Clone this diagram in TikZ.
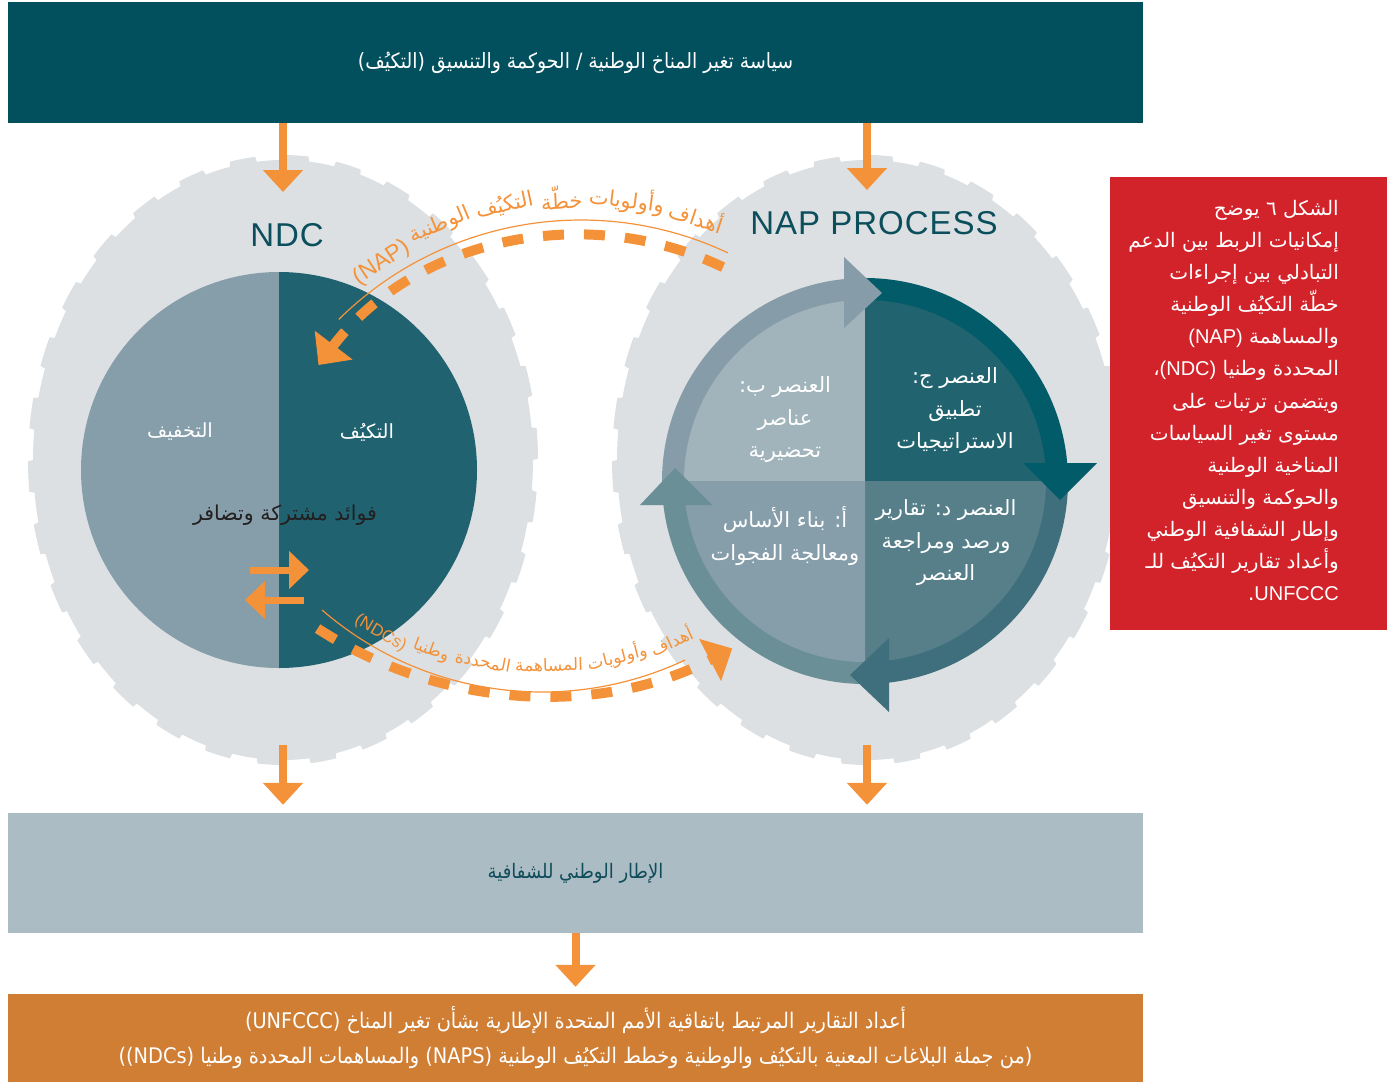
\documentclass[tikz,border=0pt]{standalone}
\usepackage{fontspec}
\setmainfont{Liberation Sans}
\newfontfamily\ar[Script=Arabic]{DejaVu Sans}
\newfontfamily\arn[Script=Arabic,FakeStretch=0.9]{DejaVu Sans}
\newfontfamily\lat{Liberation Sans}
\newfontfamily\latsp[LetterSpace=3]{Liberation Sans}
\TeXXeTstate=1
\usetikzlibrary{arrows.meta,calc}
\newcommand{\arR}[1]{\beginR#1\endR}
\newcommand{\latin}[1]{\beginL{\lat #1}\endL}
\newcommand{\latn}[1]{\beginL#1\endL}
\definecolor{topc}{HTML}{02505E}
\definecolor{orc}{HTML}{F4923A}
\definecolor{gearc}{HTML}{DCE0E2}
\definecolor{mitc}{HTML}{869DAA}
\definecolor{adac}{HTML}{20626F}
\definecolor{ttl}{HTML}{0B4F5C}
\definecolor{midc}{HTML}{ABBCC4}
\definecolor{midt}{HTML}{0F4C5A}
\definecolor{botc}{HTML}{CF7E33}
\definecolor{redc}{HTML}{D2232A}
\definecolor{tlr}{HTML}{869DA9}
\definecolor{tli}{HTML}{A1B4BB}
\definecolor{trr}{HTML}{025B68}
\definecolor{tri}{HTML}{21636F}
\definecolor{brr}{HTML}{3F6F7C}
\definecolor{bri}{HTML}{567F8A}
\definecolor{blr}{HTML}{6A8F97}
\definecolor{bli}{HTML}{869DAA}
\definecolor{darkt}{HTML}{231F20}
\newcommand{\drawgear}[2]{%
  \fill[gearc] plot[domain=0:360,samples=1441,variable=\t]
   ({#1+(250+5*mod(floor(\t/6),2))*cos(\t)},{#2+(300+5*mod(floor(\t/6),2))*sin(\t)}) -- cycle;}
\tikzset{
  oarr/.style={draw=orc, line width=8pt, -{Triangle[width=39pt,length=22pt]}},
  sarr/.style={draw=orc, line width=7pt, -{Triangle[width=37pt,length=20pt]}},
  dashpath/.style={draw=orc, line width=10pt, dash pattern=on 21pt off 20pt, -{Triangle[width=46pt,length=25pt]}},
  thinarc/.style={draw=orc, line width=1.2pt},
  arwt/.style={text=orc, inner sep=0pt, font=\ar\fontsize{21}{23}\selectfont},
  arwb/.style={text=orc, inner sep=0pt, font=\ar\fontsize{17}{20}\selectfont},
  qtext/.style={text=white, align=center, inner sep=0pt, font=\ar\fontsize{21}{32.5}\selectfont},
  band/.style={minimum width=1135pt, inner sep=0pt, align=center},
  title/.style={text=ttl, inner sep=0pt, font=\latsp\fontsize{33}{36}\selectfont},
}
\begin{document}
\begin{tikzpicture}[x=1pt,y=-1pt]
\useasboundingbox (0,0) rectangle (1394,1082);
% gears
\drawgear{283}{460}
\drawgear{867}{460}
% NDC circle
\coordinate (L) at (279,470);
\fill[mitc] (L) -- +(90:198) arc[start angle=90,end angle=270,radius=198] -- cycle;
\fill[adac] (L) -- +(-90:198) arc[start angle=-90,end angle=90,radius=198] -- cycle;
% NAP circle
\coordinate (N) at (865,481);
\fill[tlr] (N) -- +(180:203) arc[start angle=180,end angle=270,radius=203] -- cycle;
\fill[trr] (N) -- +(270:203) arc[start angle=270,end angle=360,radius=203] -- cycle;
\fill[brr] (N) -- +(0:203) arc[start angle=0,end angle=90,radius=203] -- cycle;
\fill[blr] (N) -- +(90:203) arc[start angle=90,end angle=180,radius=203] -- cycle;
\fill[tli] (N) -- +(180:181) arc[start angle=180,end angle=270,radius=181] -- cycle;
\fill[tri] (N) -- +(270:181) arc[start angle=270,end angle=360,radius=181] -- cycle;
\fill[bri] (N) -- +(0:181) arc[start angle=0,end angle=90,radius=181] -- cycle;
\fill[bli] (N) -- +(90:181) arc[start angle=90,end angle=180,radius=181] -- cycle;
\fill[tlr] (844,257) -- (844,328) -- (882,293) -- cycle;
\fill[trr] (1023,463) -- (1097,463) -- (1060,500) -- cycle;
\fill[brr] (889,638) -- (889,712) -- (850,675) -- cycle;
\fill[blr] (640,505) -- (712,505) -- (675,468) -- cycle;
% bands
\node[band, fill=topc, minimum height=121pt, text=white, font=\arn\fontsize{21}{24}\selectfont] (top) at (575.5,62.5)
  {\arR{سياسة تغير المناخ الوطنية / الحوكمة والتنسيق (التكيُف)}};
\node[band, fill=midc, minimum height=120pt, text=midt, font=\arn\fontsize{20}{24}\selectfont] (mid) at (575.5,873)
  {\arR{الإطار الوطني للشفافية}};
\node[band, fill=botc, minimum height=88pt, text=white, font=\arn\fontsize{21.5}{35}\selectfont] (bot) at (575.5,1038)
  {\arR{أعداد التقارير المرتبط باتفاقية الأمم المتحدة الإطارية بشأن تغير المناخ \latn{(UNFCCC)}}\\
   \arR{(من جملة البلاغات المعنية بالتكيُف والوطنية وخطط التكيُف الوطنية \latn{(NAPS)} والمساهمات المحددة وطنيا \latn{(NDCs)})}};
% red caption
\node[fill=redc, minimum width=277pt, minimum height=453pt, inner sep=0pt] (cap) at (1248.5,403.5) {};
\node[anchor=north east, align=right, text=white, inner sep=0pt, font=\ar\fontsize{20}{32.1}\selectfont] (capt) at (1339,200)
  {\arR{الشكل ٦ يوضح}\\
   \arR{إمكانيات الربط بين الدعم}\\
   \arR{التبادلي بين إجراءات}\\
   \arR{خطّة التكيُف الوطنية}\\
   \arR{والمساهمة \latin{(NAP)}}\\
   \arR{المحددة وطنيا \latin{(NDC)}،}\\
   \arR{ويتضمن ترتبات على}\\
   \arR{مستوى تغير السياسات}\\
   \arR{المناخية الوطنية}\\
   \arR{والحوكمة والتنسيق}\\
   \arR{وإطار الشفافية الوطني}\\
   \arR{وأعداد تقارير التكيُف للـ}\\
   \arR{\latin{UNFCCC}.}};
% arrows
\coordinate (g1in) at (283,192);
\coordinate (g2in) at (867,190);
\coordinate (g1out) at (283,745);
\coordinate (g2out) at (867,745);
\draw[oarr] (top.south -| g1in) -- (g1in);
\draw[oarr] (top.south -| g2in) -- (g2in);
\draw[oarr, shorten >=8pt] (g1out) -- (mid.north -| g1out);
\draw[oarr, shorten >=8pt] (g2out) -- (mid.north -| g2out);
\draw[oarr, shorten >=7pt] (mid.south) -- (bot.north);
% titles and circle texts
\node[title] (ndc) at (287,235) {NDC};
\node[title] (nap) at (874,223) {NAP PROCESS};
\node[text=white, inner sep=0pt, font=\ar\fontsize{19.5}{22}\selectfont] (mit) at (180,432) {\arR{التخفيف}};
\node[text=white, inner sep=0pt, font=\ar\fontsize{19.5}{22}\selectfont] (ada) at (367,432) {\arR{التكيُف}};
\node[text=darkt, inner sep=0pt, font=\ar\fontsize{20.5}{22}\selectfont] (cob) at (285,515) {\arR{فوائد مشتركة وتضافر}};
\coordinate (s1a) at (250,570); \coordinate (s1b) at (309,570);
\coordinate (s2a) at (304,600); \coordinate (s2b) at (245,600);
\draw[sarr] (s1a) -- (s1b);
\draw[sarr] (s2a) -- (s2b);
% quadrant texts
\node[qtext] (qb) at (785,420) {\arR{العنصر ب:}\\\arR{عناصر}\\\arR{تحضيرية}};
\node[qtext] (qc) at (955,411) {\arR{العنصر ج:}\\\arR{تطبيق}\\\arR{الاستراتيجيات}};
\node[qtext] (qd) at (946,543) {\arR{العنصر د: تقارير}\\\arR{ورصد ومراجعة}\\\arR{العنصر}};
\node[qtext] (qa) at (785,536) {\arR{أ: بناء الأساس}\\\arR{ومعالجة الفجوات}};
% dashed exchange arcs
\coordinate (TC) at (581,565);
\coordinate (BC) at (542,283);
\coordinate (BT) at (542,356);
\draw[dashpath] ($(TC)+(-64.5:330)$) arc[start angle=-64.5,end angle=-142.7,radius=330];
\draw[thinarc] ($(TC)+(-64.8:345)$) arc[start angle=-64.8,end angle=-134.6,radius=345];
\draw[dashpath] ($(BC)+(123:412)$) arc[start angle=123,end angle=62.5,radius=412];
\draw[thinarc] ($(BT)+(130.9:336)$) arc[start angle=130.9,end angle=64.8,radius=336];
% top arc label
\node[arwt, rotate=-18.4] (tw1) at ($(TC)+(-71.6:368)$) {\arR{أهداف}};
\node[arwt, rotate=-7.15] (tw2) at ($(TC)+(-82.85:368)$) {\arR{وأولويات}};
\node[arwt, rotate=3.05] (tw3) at ($(TC)+(-93.05:368)$) {\arR{خطّة}};
\node[arwt, rotate=12] (tw4) at ($(TC)+(-102:368)$) {\arR{التكيُف}};
\node[arwt, rotate=22.5] (tw5) at ($(TC)+(-112.5:368)$) {\arR{الوطنية}};
\node[arwt, rotate=33.45, font=\lat\fontsize{23}{25}\selectfont] (tw6) at ($(TC)+(-123.45:362)$) {(NAP)};
% bottom arc label
\node[arwb, rotate=24.4] (bw1) at ($(BT)+(65.6:312)$) {\arR{أهداف}};
\node[arwb, rotate=14] (bw2) at ($(BT)+(76:310)$) {\arR{وأولويات}};
\node[arwb, rotate=1.3] (bw3) at ($(BT)+(88.7:309)$) {\arR{المساهمة}};
\node[arwb, rotate=-10.9] (bw4) at ($(BT)+(100.9:311)$) {\arR{المحددة}};
\node[arwb, rotate=-20.6] (bw5) at ($(BT)+(110.6:315)$) {\arR{وطنيا}};
\node[arwb, rotate=-30.2, font=\lat\fontsize{17}{19}\selectfont] (bw6) at ($(BT)+(120.2:321)$) {(NDCs)};
\end{tikzpicture}
\end{document}
